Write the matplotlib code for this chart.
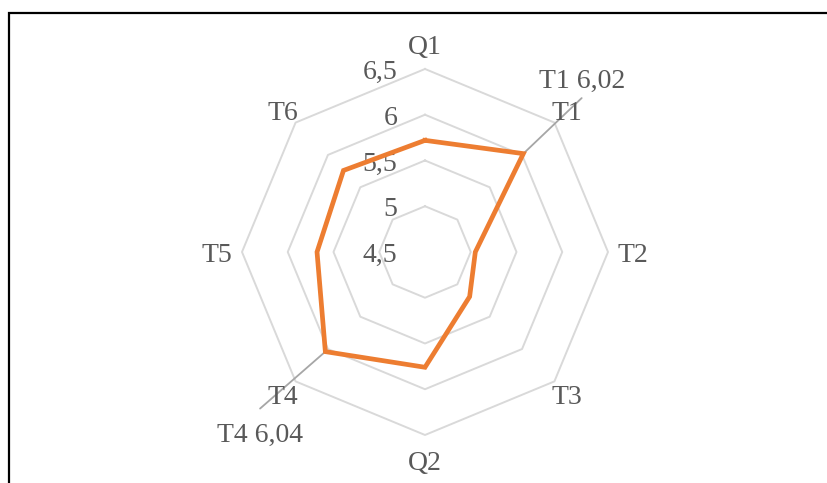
import numpy as np
import matplotlib.pyplot as plt
from matplotlib.patches import Rectangle

categories = ['Q1', 'T1', 'T2', 'T3', 'Q2', 'T4', 'T5', 'T6']
values = [5.72, 6.02, 5.05, 5.19, 5.76, 6.04, 5.68, 5.76]
ring_levels = [4.5, 5.0, 5.5, 6.0, 6.5]
ring_labels = ['4,5', '5', '5,5', '6', '6,5']
callouts = {'T1': 'T1 6,02', 'T4': 'T4 6,04'}

plt.rcParams['font.family'] = ['Liberation Serif', 'DejaVu Serif']
txt_col = '#595959'

fig = plt.figure(figsize=(8.27, 4.83), dpi=100)
ax = fig.add_axes([0.2926, 0.0994, 0.4426, 0.7578], projection='polar')
ax.set_theta_zero_location('N')
ax.set_theta_direction(-1)
ax.set_ylim(4.5, 6.5)
ax.axis('off')

n = len(categories)
theta = np.arange(n) * 2 * np.pi / n
theta_c = np.append(theta, theta[0])

# polygon rings
for lv in ring_levels[1:]:
    ax.plot(theta_c, [lv] * (n + 1), color='#d9d9d9', lw=1.4, zorder=1, clip_on=False)

# ring value labels
for lv, lab in zip(ring_levels, ring_labels):
    ax.annotate(lab, xy=(0, lv), xytext=(-20, -2.5), textcoords='offset points',
                ha='right', va='center', fontsize=20, color=txt_col, annotation_clip=False)

# category labels
for t, c in zip(theta, categories):
    r = 6.77 if c in ('Q1', 'Q2', 'T2', 'T5') else 6.69
    ax.annotate(c, xy=(t, r), xytext=(0, -2.5), textcoords='offset points',
                ha='center', va='center', fontsize=20, color=txt_col, annotation_clip=False)

# data series
ax.plot(theta_c, values + values[:1], color='#ed7d31', lw=3.4, zorder=3, solid_joinstyle='miter')

# data callouts with leader lines
offsets = {'T1': ((42, 40), (42, 52)), 'T4': ((-47, -41), (-47, -60))}
for c, lab in callouts.items():
    i = categories.index(c)
    line_off, text_off = offsets[c]
    ax.annotate('', xy=(theta[i], values[i]), xytext=line_off, textcoords='offset points',
                arrowprops=dict(arrowstyle='-', color='#a6a6a6', lw=1.3, shrinkA=0, shrinkB=0),
                annotation_clip=False, zorder=2)
    ax.annotate(lab, xy=(theta[i], values[i]), xytext=text_off, textcoords='offset points',
                ha='center', va='center', fontsize=20, color=txt_col, annotation_clip=False)

# outer frame (runs off the canvas at right and bottom)
fig.patches.append(Rectangle((9 / 827, -0.1), 1.2, 1.1 - 13 / 483, transform=fig.transFigure,
                             fill=False, edgecolor='black', lw=1.6))

fig.savefig('out.png', dpi=100)
